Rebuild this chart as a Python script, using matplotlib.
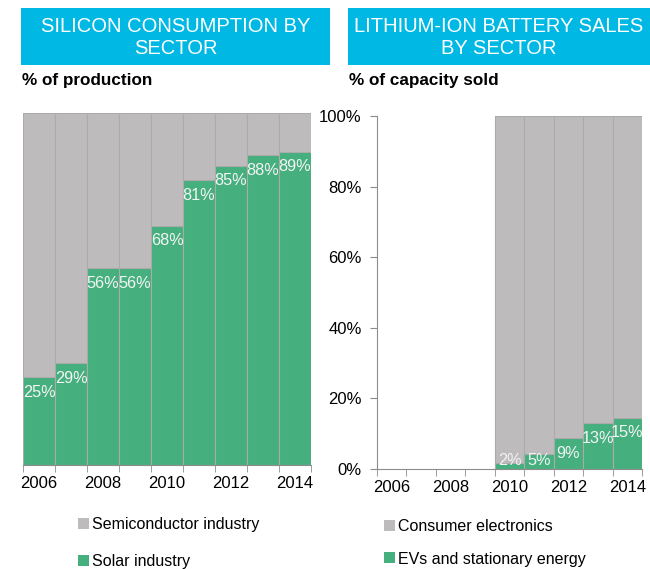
import matplotlib.pyplot as plt
from matplotlib.patches import Rectangle, Patch

plt.rcParams['font.family'] = ['Liberation Sans', 'DejaVu Sans']

# --- datos ---
anios = [2006, 2007, 2008, 2009, 2010, 2011, 2012, 2013, 2014]
etiquetas_x = ['2006', '2008', '2010', '2012', '2014']

silicio_solar = [25, 29, 56, 56, 68, 81, 85, 88, 89]
silicio_etiquetas = ['25%', '29%', '56%', '56%', '68%', '81%', '85%', '88%', '89%']

bateria_anios = [2010, 2011, 2012, 2013, 2014]
bateria_ev = [1.7, 4.3, 8.8, 13, 14.5]
bateria_etiquetas = ['2%', '5%', '9%', '13%', '15%']

titulos = ['SILICON CONSUMPTION BY\nSECTOR', 'LITHIUM-ION BATTERY SALES\nBY SECTOR']
subtitulos = ['% of production', '% of capacity sold']
leyendas = [['Semiconductor industry', 'Solar industry'],
            ['Consumer electronics', 'EVs and stationary energy']]

verde = '#45AF7E'
gris = '#BDBBBC'
borde = '#ABABAB'
cian = '#00B8E4'
eje = '#8C8C8C'

fig = plt.figure(figsize=(6.5, 5.69), dpi=100)
W, H = 650, 569

def caja(x0, y0, x1, y1):
    # rectángulo en coordenadas de píxel (y desde arriba)
    return (x0 / W, 1 - y1 / H, (x1 - x0) / W, (y1 - y0) / H)

# Encabezados
for (x0, x1), t, s in zip([(21, 330), (348, 650)], titulos, subtitulos):
    bx, by, bw, bh = caja(x0, 8, x1, 65)
    fig.add_artist(Rectangle((bx, by), bw, bh, transform=fig.transFigure,
                             color=cian, lw=0))
    fig.text(bx + bw / 2, by + bh / 2 - 1 / H, t, ha='center', va='center',
             color='white', fontsize=14.5, linespacing=1.2)
    fig.text(bx + 1 / W, 1 - 80 / H, s, ha='left', va='center',
             fontsize=12.3, fontweight='bold')

def estilo_x(ax):
    ax.set_xlim(-0.5, len(anios) - 0.5)
    ax.set_xticks([i - 0.5 for i in range(len(anios) + 1)], minor=True)
    ax.set_xticks(range(0, len(anios), 2))
    ax.set_xticklabels(etiquetas_x)
    ax.tick_params(axis='x', which='major', length=0, labelsize=12, pad=8)
    ax.tick_params(axis='x', which='minor', length=5, color=eje)
    ax.spines['bottom'].set_color(eje)
    for lado in ['top', 'right']:
        ax.spines[lado].set_visible(False)
    ax.set_ylim(0, 100)

# --- Silicio ---
ax1 = fig.add_axes([23 / W, 1 - 465 / H, 288 / W, 352 / H])
pos = range(len(anios))
ax1.bar(pos, [100] * len(anios), width=1.0, color=gris, edgecolor=borde, lw=0.8)
ax1.bar(pos, silicio_solar, width=1.0, color=verde, edgecolor=borde, lw=0.8)
for i, (v, t) in enumerate(zip(silicio_solar, silicio_etiquetas)):
    ax1.text(i, v - 4.3, t, ha='center', va='center', color='#F4F4F4', fontsize=11.7)
estilo_x(ax1)
ax1.spines['left'].set_visible(False)
ax1.set_yticks([])

# --- Baterías ---
ax2 = fig.add_axes([377 / W, 1 - 469 / H, 265 / W, 353 / H])
pos2 = [anios.index(a) for a in bateria_anios]
ax2.bar(pos2, [100] * len(pos2), width=1.0, color=gris, edgecolor=borde, lw=0.8)
ax2.bar(pos2, bateria_ev, width=1.0, color=verde, edgecolor=borde, lw=0.8)
for i, v, t in zip(pos2, bateria_ev, bateria_etiquetas):
    ax2.text(i, max(v - 4.3, 2.5), t, ha='center', va='center', color='#F4F4F4', fontsize=11.7)
estilo_x(ax2)
ax2.spines['left'].set_color(eje)
ax2.set_yticks(range(0, 101, 20))
ax2.set_yticklabels([f'{v}%' for v in range(0, 101, 20)])
ax2.tick_params(axis='y', length=5, color=eje, labelsize=12, pad=6)

# Leyendas
for ax, nombres, x0, y0, esp in [(ax1, leyendas[0], 78, 517, 1.4), (ax2, leyendas[1], 384, 519, 1.1)]:
    manejadores = [Patch(facecolor=gris, edgecolor='none', label=nombres[0]),
                   Patch(facecolor=verde, edgecolor='none', label=nombres[1])]
    ax.legend(handles=manejadores, loc='upper left', bbox_to_anchor=(x0 / W, 1 - y0 / H),
              bbox_transform=fig.transFigure, frameon=False, fontsize=11.5,
              handlelength=0.68, handleheight=0.68, handletextpad=0.2,
              labelspacing=esp, borderpad=0, borderaxespad=0)

fig.savefig('out.png', dpi=100)
